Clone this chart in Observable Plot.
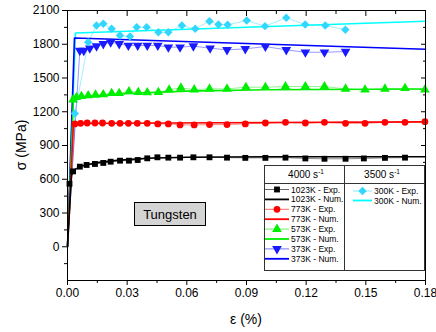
<!DOCTYPE html>
<html><head><meta charset="utf-8">
<script src="https://cdn.jsdelivr.net/npm/d3@7"></script>
<script src="https://cdn.jsdelivr.net/npm/@observablehq/plot@0.6"></script>
<style>body{margin:0;background:#fff}</style>
</head><body><div id="chart"></div><script>
// ---- tick values ----
const xTicks = [0, 0.03, 0.06, 0.09, 0.12, 0.15, 0.18];
const xMinor = [0.015, 0.045, 0.075, 0.105, 0.135, 0.165];
const yTicks = [0, 300, 600, 900, 1200, 1500, 1800, 2100];
const yMinor = [-150, 150, 450, 750, 1050, 1350, 1650, 1950];

// ---- experimental data [strain %, stress MPa] ----
const exp1023 = [[0,0],[0.001,560],[0.0028,670],[0.0062,712],[0.0096,727],[0.0138,736],[0.018,745],[0.0217,756],[0.0264,765],[0.0309,765],[0.0353,771],[0.0401,786],[0.0452,795],[0.0507,792],[0.0566,792],[0.0633,795],[0.0714,795],[0.0802,792],[0.0894,790],[0.0995,790],[0.1096,792],[0.1196,785],[0.1292,782],[0.1398,782],[0.149,785],[0.1596,790],[0.1697,792]];
const exp773 = [[0,0],[0.0037,1092],[0.0066,1097],[0.0099,1100],[0.0138,1100],[0.0176,1100],[0.0222,1097],[0.0264,1097],[0.0306,1097],[0.0351,1097],[0.0401,1097],[0.0454,1092],[0.0507,1092],[0.0566,1083],[0.0637,1083],[0.0714,1086],[0.0802,1086],[0.0894,1092],[0.0995,1100],[0.1096,1106],[0.1196,1100],[0.1292,1106],[0.1398,1097],[0.1496,1097],[0.1596,1106],[0.1697,1106],[0.1797,1112]];
const exp573 = [[0,0],[0.0028,1308],[0.0045,1329],[0.007,1338],[0.0104,1344],[0.0141,1350],[0.018,1353],[0.0222,1364],[0.026,1364],[0.0309,1380],[0.0356,1373],[0.0401,1371],[0.0457,1373],[0.0511,1395],[0.057,1412],[0.0637,1397],[0.0714,1403],[0.0802,1403],[0.0897,1418],[0.0995,1418],[0.1096,1424],[0.1196,1424],[0.1292,1424],[0.1398,1403],[0.1496,1395],[0.1596,1403],[0.1697,1409],[0.1797,1395]];
const exp373 = [[0,0],[0.0062,1744],[0.0082,1744],[0.0112,1765],[0.0146,1783],[0.018,1804],[0.0217,1818],[0.026,1804],[0.0306,1789],[0.0353,1789],[0.0401,1789],[0.0454,1789],[0.0507,1774],[0.0566,1774],[0.0633,1783],[0.0717,1765],[0.0802,1750],[0.0894,1759],[0.0995,1780],[0.110,1750],[0.1196,1729],[0.1292,1729],[0.1398,1735]];
const exp300 = [[0,0],[0.0037,1184],[0.0104,1818],[0.0146,1967],[0.018,1982],[0.0222,1937],[0.0264,1878],[0.0314,1869],[0.0348,1952],[0.0398,1952],[0.0457,1907],[0.0507,1907],[0.0575,1967],[0.0642,1937],[0.0714,2005],[0.0759,1976],[0.0805,1973],[0.0901,2011],[0.0993,1961],[0.110,2035],[0.1195,1976],[0.1296,1967],[0.1397,1929]];

// ---- numerical data ----
const num1023 = [[0,0],[0.002,640],[0.004,690],[0.008,722],[0.015,748],[0.025,768],[0.04,786],[0.06,796],[0.1,800],[0.18,800]];
const num773 = [[0,0],[0.003,1095],[0.05,1100],[0.18,1110]];
const num573 = [[0,0],[0.003,1315],[0.01,1335],[0.03,1362],[0.06,1383],[0.1,1396],[0.18,1402]];
const num373 = [[0,0],[0.0035,1855],[0.18,1755]];
const num300 = [[0,0],[0.004,1900],[0.18,2005]];

// ---- labels ----
const seriesNames = ["1023K", "773K", "573K", "373K", "300K"];
const groupLabels = ["4000 s", "3500 s"];
const xLabel = "ε (%)";
const yLabel = "σ (MPa)";
const annotation = "Tungsten";

// ---- styles ----
const FONT = "'Liberation Sans', Arial, sans-serif";
const styles = {
  "1023K": {color: "#000000", expColor: "#000000", symbol: "square", r: 3.3, rotate: 0},
  "773K":  {color: "#ff0000", expColor: "#ff0000", symbol: "circle", r: 3.4, rotate: 0},
  "573K":  {color: "#00ee00", expColor: "#00ee00", symbol: "triangle", r: 3.6, rotate: 0},
  "373K":  {color: "#0000ff", expColor: "#1a1aff", symbol: "triangle", r: 3.6, rotate: 180},
  "300K":  {color: "#00ffff", expColor: "#33d6ff", symbol: "diamond2", r: 3.8, rotate: 0}
};
const expSets = {"1023K": exp1023, "773K": exp773, "573K": exp573, "373K": exp373, "300K": exp300};
const numSets = {"1023K": num1023, "773K": num773, "573K": num573, "373K": num373, "300K": num300};

const toRows = (arr) => arr.map(([e, s]) => ({e, s}));

const marks = [];
// axes
marks.push(Plot.axisX(xTicks, {anchor: "bottom", tickSize: 5, tickPadding: 3, tickFormat: d => d.toFixed(2), label: null, fontSize: 12}));
marks.push(Plot.axisX(xMinor, {anchor: "bottom", tickSize: 3, tickFormat: () => "", label: null}));
marks.push(Plot.axisX(xTicks, {anchor: "top", tickSize: 5, dy: 5, tickFormat: () => "", label: null}));
marks.push(Plot.axisX(xMinor, {anchor: "top", tickSize: 3, dy: 3, tickFormat: () => "", label: null}));
marks.push(Plot.axisY(yTicks, {anchor: "left", tickSize: 5, tickPadding: 3, label: null, fontSize: 12, tickFormat: d => String(d)}));
marks.push(Plot.axisY(yMinor, {anchor: "left", tickSize: 3, tickFormat: () => "", label: null}));
marks.push(Plot.axisY(yTicks, {anchor: "right", tickSize: 5, dx: -5, tickFormat: () => "", label: null}));
marks.push(Plot.axisY(yMinor, {anchor: "right", tickSize: 3, dx: -3, tickFormat: () => "", label: null}));

// experimental connecting lines
for (const n of seriesNames) {
  marks.push(Plot.line(toRows(expSets[n]), {x: "e", y: "s", stroke: styles[n].expColor, strokeOpacity: 0.45, strokeWidth: 1}));
}
// numerical lines
for (const n of [...seriesNames].reverse()) {
  marks.push(Plot.line(toRows(numSets[n]), {x: "e", y: "s", stroke: styles[n].color, strokeWidth: 1.6}));
}
// experimental markers
for (const n of seriesNames) {
  const st = styles[n];
  marks.push(Plot.dot(toRows(expSets[n]).filter(d => d.e > 0), {x: "e", y: "s", symbol: st.symbol, r: st.r, rotate: st.rotate, fill: st.expColor, stroke: "none"}));
}
marks.push(Plot.frame({stroke: "#000", strokeWidth: 1}));

const plot = Plot.plot({
  width: 436, height: 332,
  marginLeft: 67, marginRight: 11, marginTop: 10, marginBottom: 52,
  style: {fontFamily: FONT, fontSize: "12px", color: "#000", background: "#fff"},
  x: {domain: [0, 0.18]},
  y: {domain: [-300, 2100]},
  marks
});
document.getElementById("chart").appendChild(plot);

// ---- overlay: axis titles, annotation, legend ----
const svg = d3.select(plot);
const g = svg.append("g").attr("font-family", FONT).attr("fill", "#000").attr("text-anchor", "start");
g.append("text").attr("x", 246).attr("y", 324).attr("text-anchor", "middle").attr("font-size", 14).text(xLabel);
g.append("text").attr("transform", "translate(26,145) rotate(-90)").attr("text-anchor", "middle").attr("font-size", 14).text(yLabel);

// annotation box
g.append("rect").attr("x", 134.5).attr("y", 202.5).attr("width", 71).attr("height", 23).attr("fill", "#d4d4d4").attr("stroke", "#000").attr("stroke-width", 1);
g.append("text").attr("x", 170).attr("y", 214).attr("text-anchor", "middle").attr("dominant-baseline", "central").attr("font-size", 13).text(annotation);

// legend
const L = g.append("g").attr("text-anchor", "start");
L.append("rect").attr("x", 264.5).attr("y", 165.5).attr("width", 160).attr("height", 105).attr("fill", "#fff").attr("stroke", "#333");
L.append("line").attr("x1", 264.5).attr("x2", 424.5).attr("y1", 183.5).attr("y2", 183.5).attr("stroke", "#333");
L.append("line").attr("x1", 344.5).attr("x2", 344.5).attr("y1", 165.5).attr("y2", 270.5).attr("stroke", "#333");
const headerX = [306, 382];
groupLabels.forEach((lab, i) => {
  const t = L.append("text").attr("x", headerX[i]).attr("y", 178).attr("text-anchor", "middle").attr("font-size", 10);
  t.append("tspan").text(lab);
  t.append("tspan").attr("dy", -4).attr("font-size", 6.5).text("-1");
});
const symMap = {square: d3.symbolSquare, circle: d3.symbolCircle, triangle: d3.symbolTriangle, diamond2: d3.symbolDiamond2};
function legendItem(x0, x1, y, n, kind) {
  const st = styles[n];
  if (kind === "Exp.") {
    L.append("line").attr("x1", x0).attr("x2", x1).attr("y1", y).attr("y2", y).attr("stroke", st.expColor).attr("stroke-opacity", 0.6).attr("stroke-width", 1);
    const area = Math.PI * st.r * st.r;
    L.append("path").attr("d", d3.symbol(symMap[st.symbol], area)()).attr("transform", `translate(${(x0 + x1) / 2},${y}) rotate(${st.rotate})`).attr("fill", st.expColor);
  } else {
    L.append("line").attr("x1", x0).attr("x2", x1).attr("y1", y).attr("y2", y).attr("stroke", st.color).attr("stroke-width", 1.8);
  }
  L.append("text").attr("x", x1 + 2).attr("y", y).attr("text-anchor", "start").attr("dominant-baseline", "central").attr("font-size", 8.5).text(`${n} - ${kind}`);
}
let row = 0;
for (const n of seriesNames.slice(0, 4)) {
  for (const kind of ["Exp.", "Num."]) {
    legendItem(265, 289, 189.5 + row * 9.9, n, kind);
    row++;
  }
}
legendItem(353, 372, 191, "300K", "Exp.");
legendItem(353, 372, 200.5, "300K", "Num.");
</script></body></html>
